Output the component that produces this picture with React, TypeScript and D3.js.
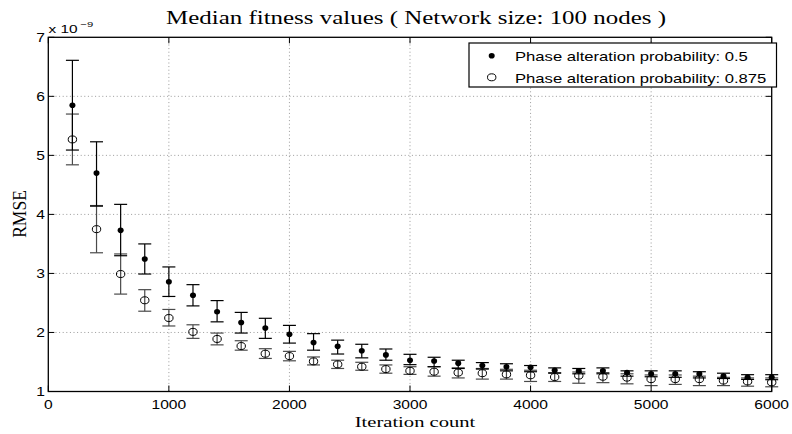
import React from "react";
import * as d3 from "d3";

const iterations = [200, 400, 600, 800, 1000, 1200, 1400, 1600, 1800, 2000, 2200, 2400, 2600, 2800, 3000, 3200, 3400, 3600, 3800, 4000, 4200, 4400, 4600, 4800, 5000, 5200, 5400, 5600, 5800, 6000];

// Phase alteration probability 0.5 (filled)
const medianA = [5.85, 4.70, 3.73, 3.245, 2.86, 2.63, 2.35, 2.17, 2.076, 1.97, 1.83, 1.765, 1.69, 1.62, 1.53, 1.517, 1.48, 1.44, 1.42, 1.41, 1.36, 1.35, 1.35, 1.32, 1.30, 1.30, 1.30, 1.26, 1.24, 1.24];
const upperA = [6.61, 5.23, 4.17, 3.50, 3.11, 2.81, 2.54, 2.34, 2.24, 2.12, 1.98, 1.87, 1.80, 1.72, 1.63, 1.58, 1.53, 1.49, 1.47, 1.44, 1.40, 1.39, 1.40, 1.35, 1.35, 1.35, 1.335, 1.31, 1.285, 1.285];
const lowerA = [5.09, 4.14, 3.30, 2.99, 2.61, 2.45, 2.18, 1.99, 1.90, 1.82, 1.70, 1.635, 1.57, 1.53, 1.455, 1.42, 1.39, 1.38, 1.35, 1.335, 1.31, 1.30, 1.30, 1.26, 1.25, 1.24, 1.23, 1.22, 1.205, 1.20];

// Phase alteration probability 0.875 (open)
const medianB = [5.27, 3.75, 2.99, 2.545, 2.245, 2.01, 1.89, 1.77, 1.64, 1.60, 1.51, 1.46, 1.42, 1.38, 1.35, 1.335, 1.32, 1.31, 1.29, 1.275, 1.245, 1.27, 1.25, 1.235, 1.21, 1.21, 1.21, 1.185, 1.17, 1.155];
const upperB = [5.70, 4.15, 3.33, 2.725, 2.39, 2.13, 1.99, 1.86, 1.725, 1.68, 1.585, 1.53, 1.495, 1.45, 1.42, 1.42, 1.40, 1.39, 1.376, 1.36, 1.32, 1.33, 1.32, 1.30, 1.28, 1.28, 1.26, 1.24, 1.23, 1.23];
const lowerB = [4.84, 3.35, 2.65, 2.36, 2.11, 1.90, 1.79, 1.70, 1.56, 1.52, 1.45, 1.39, 1.36, 1.31, 1.29, 1.26, 1.23, 1.21, 1.21, 1.17, 1.17, 1.14, 1.15, 1.13, 1.10, 1.12, 1.10, 1.10, 1.09, 1.08];

const xTicks = [0, 1000, 2000, 3000, 4000, 5000, 6000];
const yTicks = [1, 2, 3, 4, 5, 6, 7];
const legendLabels = ["Phase alteration probability: 0.5", "Phase alteration probability: 0.875"];
const titleText = "Median fitness values ( Network size: 100 nodes )";
const xLabel = "Iteration count";
const yLabel = "RMSE";

const W = 792;
const H = 434;
const L = 48.3, R = 771.7, T = 37.3, B = 391.5;
const SANS = "'Liberation Sans', Arial, Helvetica, sans-serif";
const SERIF = "'Liberation Serif', 'Times New Roman', serif";

export default function App() {
  const x = d3.scaleLinear().domain([0, 6000]).range([L, R]);
  const y = d3.scaleLinear().domain([1, 7]).range([B, T]);
  const cap = 6.5;
  const tickLen = 6;

  const errBars = (upper: number[], lower: number[], color: string, key: string) =>
    iterations.map((it, i) => {
      const cx = x(it);
      const y1 = y(upper[i]);
      const y2 = y(lower[i]);
      return (
        <g key={key + i} stroke={color} strokeWidth={1.2}>
          <line x1={cx} x2={cx} y1={y1} y2={y2} />
          <line x1={cx - cap} x2={cx + cap} y1={y1} y2={y1} />
          <line x1={cx - cap} x2={cx + cap} y1={y2} y2={y2} />
        </g>
      );
    });

  return (
    <svg width={W} height={H} style={{ position: "absolute", left: 0, top: 0, background: "#fff" }}>
      <rect x={0} y={0} width={W} height={H} fill="#fff" />
      {/* grid */}
      <g stroke="#9a9a9a" strokeWidth={1} strokeDasharray="1,2.6">
        {xTicks.filter((t) => t > 0 && t < 6000).map((t) => (
          <line key={"gx" + t} x1={x(t)} x2={x(t)} y1={T} y2={B} />
        ))}
        {yTicks.filter((t) => t > 1 && t < 7).map((t) => (
          <line key={"gy" + t} x1={L} x2={R} y1={y(t)} y2={y(t)} />
        ))}
      </g>

      {/* error bars */}
      {errBars(upperB, lowerB, "#4a4a4a", "eb")}
      {errBars(upperA, lowerA, "#000", "ea")}

      {/* markers */}
      {iterations.map((it, i) => (
        <ellipse key={"mb" + i} cx={x(it)} cy={y(medianB[i])} rx={4.2} ry={3.5} fill="none" stroke="#000" strokeWidth={1} />
      ))}
      {iterations.map((it, i) => (
        <ellipse key={"ma" + i} cx={x(it)} cy={y(medianA[i])} rx={3} ry={2.8} fill="#000" />
      ))}

      {/* axes box */}
      <rect x={L} y={T} width={R - L} height={B - T} fill="none" stroke="#000" strokeWidth={1.3} />
      <g stroke="#000" strokeWidth={1}>
        {xTicks.map((t) => (
          <g key={"tx" + t}>
            <line x1={x(t)} x2={x(t)} y1={B} y2={B - tickLen} />
            <line x1={x(t)} x2={x(t)} y1={T} y2={T + tickLen} />
          </g>
        ))}
        {yTicks.map((t) => (
          <g key={"ty" + t}>
            <line x1={L} x2={L + tickLen} y1={y(t)} y2={y(t)} />
            <line x1={R} x2={R - tickLen} y1={y(t)} y2={y(t)} />
          </g>
        ))}
      </g>

      {/* tick labels */}
      <g fontFamily={SANS} fontSize={12} fill="#000">
        {xTicks.map((t) => (
          <text key={"lx" + t} textAnchor="middle" transform={`translate(${x(t)},409) scale(1.3,1)`}>
            {t}
          </text>
        ))}
        {yTicks.map((t) => (
          <text key={"ly" + t} textAnchor="end" transform={`translate(45,${y(t) + 4.3}) scale(1.3,1)`}>
            {t}
          </text>
        ))}
      </g>
      <text fontFamily={SANS} fontSize={11} transform="translate(48.5,33.3) scale(1.4,1)">x 10</text>
      <text fontFamily={SANS} fontSize={8} transform="translate(80.5,27) scale(1.4,1)">−9</text>

      {/* title & labels */}
      <text fontFamily={SERIF} fontSize={19.5} textAnchor="middle" transform="translate(416,24) scale(1.28,1)">
        {titleText}
      </text>
      <text fontFamily={SERIF} fontSize={15.5} textAnchor="middle" transform="translate(415,427) scale(1.33,1)">
        {xLabel}
      </text>
      <text fontFamily={SERIF} fontSize={17.5} textAnchor="middle" transform="translate(25.5,214) rotate(-90) scale(1,1.1)">
        {yLabel}
      </text>

      {/* legend */}
      <rect x={469} y={43} width={307.5} height={44} fill="#fff" stroke="#000" strokeWidth={1.2} />
      <ellipse cx={491.7} cy={55.7} rx={3} ry={2.8} fill="#000" />
      <ellipse cx={491.7} cy={77.3} rx={4.2} ry={3.5} fill="none" stroke="#000" strokeWidth={1} />
      <g fontFamily={SANS} fontSize={12.8} fill="#000">
        <text transform="translate(515,60.5) scale(1.3,1)">{legendLabels[0]}</text>
        <text transform="translate(515,82.5) scale(1.3,1)">{legendLabels[1]}</text>
      </g>
    </svg>
  );
}
